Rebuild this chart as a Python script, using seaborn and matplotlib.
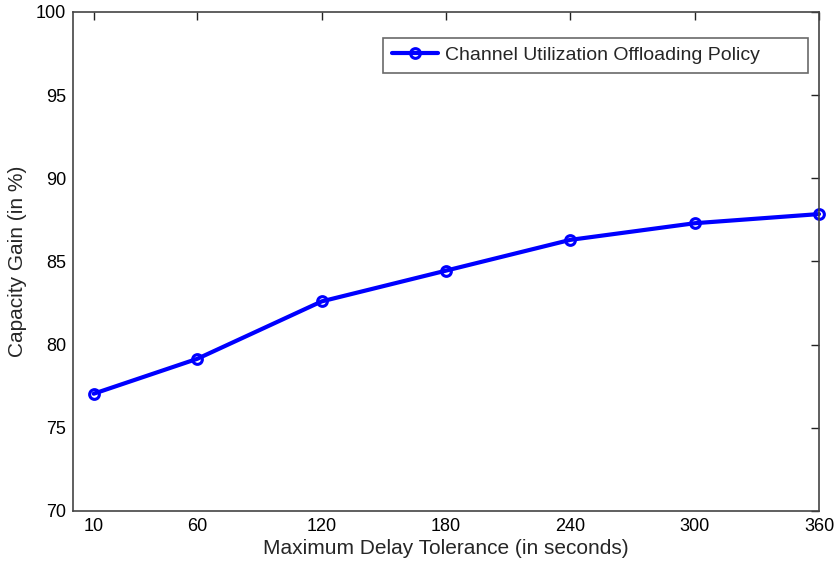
import matplotlib
matplotlib.use("Agg")
import matplotlib.pyplot as plt
import seaborn as sns
import pandas as pd

# data
delay_tolerance = [10, 60, 120, 180, 240, 300, 360]
capacity_gain = [77.05, 79.15, 82.6, 84.45, 86.3, 87.3, 87.85]
series_name = "Channel Utilization Offloading Policy"
x_ticks = [10, 60, 120, 180, 240, 300, 360]
y_ticks = [70, 75, 80, 85, 90, 95, 100]

sns.set_style("white")
plt.rcParams["font.family"] = ["Liberation Sans", "DejaVu Sans"]

df = pd.DataFrame({"delay": delay_tolerance, "gain": capacity_gain, "policy": series_name})

fig = plt.figure(figsize=(8.37, 5.65), dpi=100)
ax = fig.add_axes([0.0872, 0.0956, 0.8913, 0.8832])

sns.lineplot(data=df, x="delay", y="gain", hue="policy", palette=["#0000ff"],
             marker="o", markersize=7, markerfacecolor="none", markeredgewidth=2.2,
             markeredgecolor="#0000ff", linewidth=3, ax=ax, clip_on=False)

ax.set_xlim(0, 360)
ax.set_ylim(70, 100)
ax.set_xticks(x_ticks)
ax.set_yticks(y_ticks)
ax.tick_params(direction="in", length=6, width=1, labelsize=13, top=True, right=True,
               colors="#222222", labelcolor="black", pad=5)
for s in ax.spines.values():
    s.set_color("#444444")
    s.set_linewidth(1.2)

ax.set_xlabel("Maximum Delay Tolerance (in seconds)", fontsize=15, labelpad=3)
ax.set_ylabel("Capacity Gain (in %)", fontsize=15, labelpad=6)

# legend box stretched to the width used in the reference
leg = ax.legend(loc="upper left", bbox_to_anchor=(0.4155, 0.0, 0.5697, 0.948),
                mode="expand", borderaxespad=0, fontsize=14, frameon=True,
                fancybox=False, edgecolor="#444444", handlelength=2.4,
                handletextpad=0.35, borderpad=0.45)
leg.get_frame().set_linewidth(1.2)

fig.savefig("out.png", dpi=100)
